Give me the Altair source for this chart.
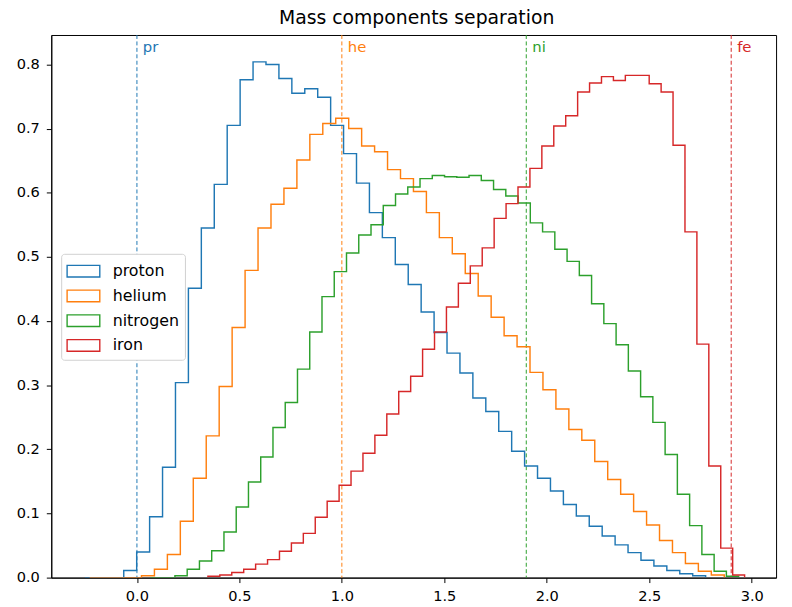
import altair as alt
import pandas as pd

names = ["proton", "helium", "nitrogen", "iron"]
colors = ["#1f77b4", "#ff7f0e", "#2ca02c", "#d62728"]

# first bin edge and bin width of each histogram
first_edges = [-0.2536, -0.2306, 0.0659, 0.3464]
bin_widths = [0.0631, 0.0632, 0.0598, 0.0582]

proton_density = [0.0, 0.0, 0.0,
    0.011, 0.040, 0.095, 0.172, 0.304, 0.451, 0.545, 0.613, 0.705, 0.776,
    0.804, 0.800, 0.778, 0.755, 0.762, 0.749, 0.705, 0.661, 0.615, 0.569,
    0.530, 0.488, 0.457, 0.414, 0.382, 0.350, 0.319, 0.280, 0.259, 0.228,
    0.197, 0.174, 0.155, 0.135, 0.114, 0.096, 0.080, 0.065, 0.051, 0.039,
    0.027, 0.018, 0.011, 0.006, 0.003]

helium_density = [0.0, 0.0, 0.0, 0.0,
    0.003, 0.013, 0.036, 0.088, 0.155, 0.221, 0.298, 0.390, 0.479, 0.545,
    0.582, 0.607, 0.651, 0.691, 0.708, 0.716, 0.700, 0.673, 0.664, 0.636,
    0.622, 0.602, 0.569, 0.530, 0.505, 0.474, 0.439, 0.406, 0.377, 0.360,
    0.320, 0.293, 0.263, 0.231, 0.214, 0.181, 0.153, 0.130, 0.103, 0.082,
    0.058, 0.039, 0.022, 0.010, 0.004]

nitrogen_density = [0.0, 0.0,
    0.003, 0.013, 0.026, 0.042, 0.071, 0.110, 0.149, 0.188, 0.234, 0.273,
    0.325, 0.383, 0.438, 0.477, 0.506, 0.534, 0.550, 0.580, 0.598, 0.609,
    0.622, 0.627, 0.625, 0.624, 0.627, 0.619, 0.605, 0.595, 0.584, 0.553,
    0.539, 0.512, 0.493, 0.471, 0.427, 0.396, 0.363, 0.322, 0.282, 0.242,
    0.192, 0.130, 0.081, 0.036, 0.010, 0.002]

iron_density = [
    0.002, 0.004, 0.008, 0.013, 0.021, 0.028, 0.041, 0.054, 0.069, 0.094,
    0.119, 0.144, 0.166, 0.194, 0.222, 0.255, 0.290, 0.314, 0.356, 0.383,
    0.422, 0.459, 0.486, 0.514, 0.560, 0.583, 0.609, 0.638, 0.673, 0.704,
    0.720, 0.757, 0.771, 0.781, 0.775, 0.783, 0.783, 0.770, 0.757, 0.674,
    0.539, 0.364, 0.174, 0.046, 0.004]

marker_x = [0.0, 1.0, 1.9, 2.9]
marker_labels = ["pr", "he", "ni", "fe"]

x_ticks = [0.0, 0.5, 1.0, 1.5, 2.0, 2.5, 3.0]
y_ticks = [0.0, 0.1, 0.2, 0.3, 0.4, 0.5, 0.6, 0.7, 0.8]

# step-histogram outline points
rows = []
for name, start, w, vals in zip(names, first_edges, bin_widths,
                                [proton_density, helium_density, nitrogen_density, iron_density]):
    edges = [start + i * w for i in range(len(vals) + 1)]
    pts = [(edges[0], 0.0)] + [(edges[i], vals[i]) for i in range(len(vals))] + [(edges[-1], 0.0)]
    for k, (xv, yv) in enumerate(pts):
        rows.append({"series": name, "x": xv, "y": yv, "order": k})
df = pd.DataFrame(rows)

mk = pd.DataFrame({"x": marker_x, "label": marker_labels, "hex": colors})

FONT = "DejaVu Sans"
xscale = alt.Scale(domain=[-0.418, 3.119], nice=False, zero=False)
yscale = alt.Scale(domain=[0, 0.8459], nice=False, zero=False)

legend = alt.Legend(
    title=None, orient="none", legendX=10, legendY=221,
    symbolType="M-1.4,-0.5L1.4,-0.5L1.4,0.5L-1.4,0.5Z", symbolSize=556,
    symbolStrokeWidth=1.4, symbolFillColor="transparent", symbolOffset=5,
    labelFont=FONT, labelFontSize=16, labelColor="black", labelOffset=17,
    strokeColor="#d0d0d0", fillColor="white", cornerRadius=3, padding=5,
    rowPadding=3,
)

hist = alt.Chart(df).mark_line(interpolate="step-after", strokeWidth=1.45, clip=True).encode(
    x=alt.X("x:Q", scale=xscale, title=None,
            axis=alt.Axis(values=x_ticks, format=".1f", labelPadding=6)),
    y=alt.Y("y:Q", scale=yscale, title=None,
            axis=alt.Axis(values=y_ticks, format=".1f", labelPadding=7)),
    color=alt.Color("series:N", scale=alt.Scale(domain=names, range=colors), sort=names, legend=legend),
    order="order:Q",
    detail="series:N",
)

rules = alt.Chart(mk).mark_rule(strokeDash=[4, 2.5], strokeWidth=1).encode(
    x=alt.X("x:Q", scale=xscale),
    color=alt.Color("hex:N", scale=None),
)

labels = alt.Chart(mk).mark_text(align="left", baseline="middle", dx=6, font=FONT, fontSize=15).encode(
    x=alt.X("x:Q", scale=xscale),
    y=alt.value(12),
    text="label:N",
    color=alt.Color("hex:N", scale=None),
)

chart = alt.layer(rules, hist, labels).properties(
    width=732, height=548,
    title=alt.TitleParams("Mass components separation", font=FONT, fontSize=19,
                          fontWeight="normal", color="black", anchor="middle",
                          offset=7, dx=3),
    autosize=alt.AutoSizeParams(type="none"),
    padding={"left": 43.7, "top": 24.3, "right": 8, "bottom": 26},
).configure(
    background="white"
).configure_view(
    stroke="black", strokeWidth=1
).configure_axis(
    grid=False, domainColor="black", tickColor="black", labelColor="black",
    labelFont=FONT, labelFontSize=14.7, tickSize=5, domain=True,
)

chart.save("out.html", embed_options={"renderer": "svg", "actions": False})
